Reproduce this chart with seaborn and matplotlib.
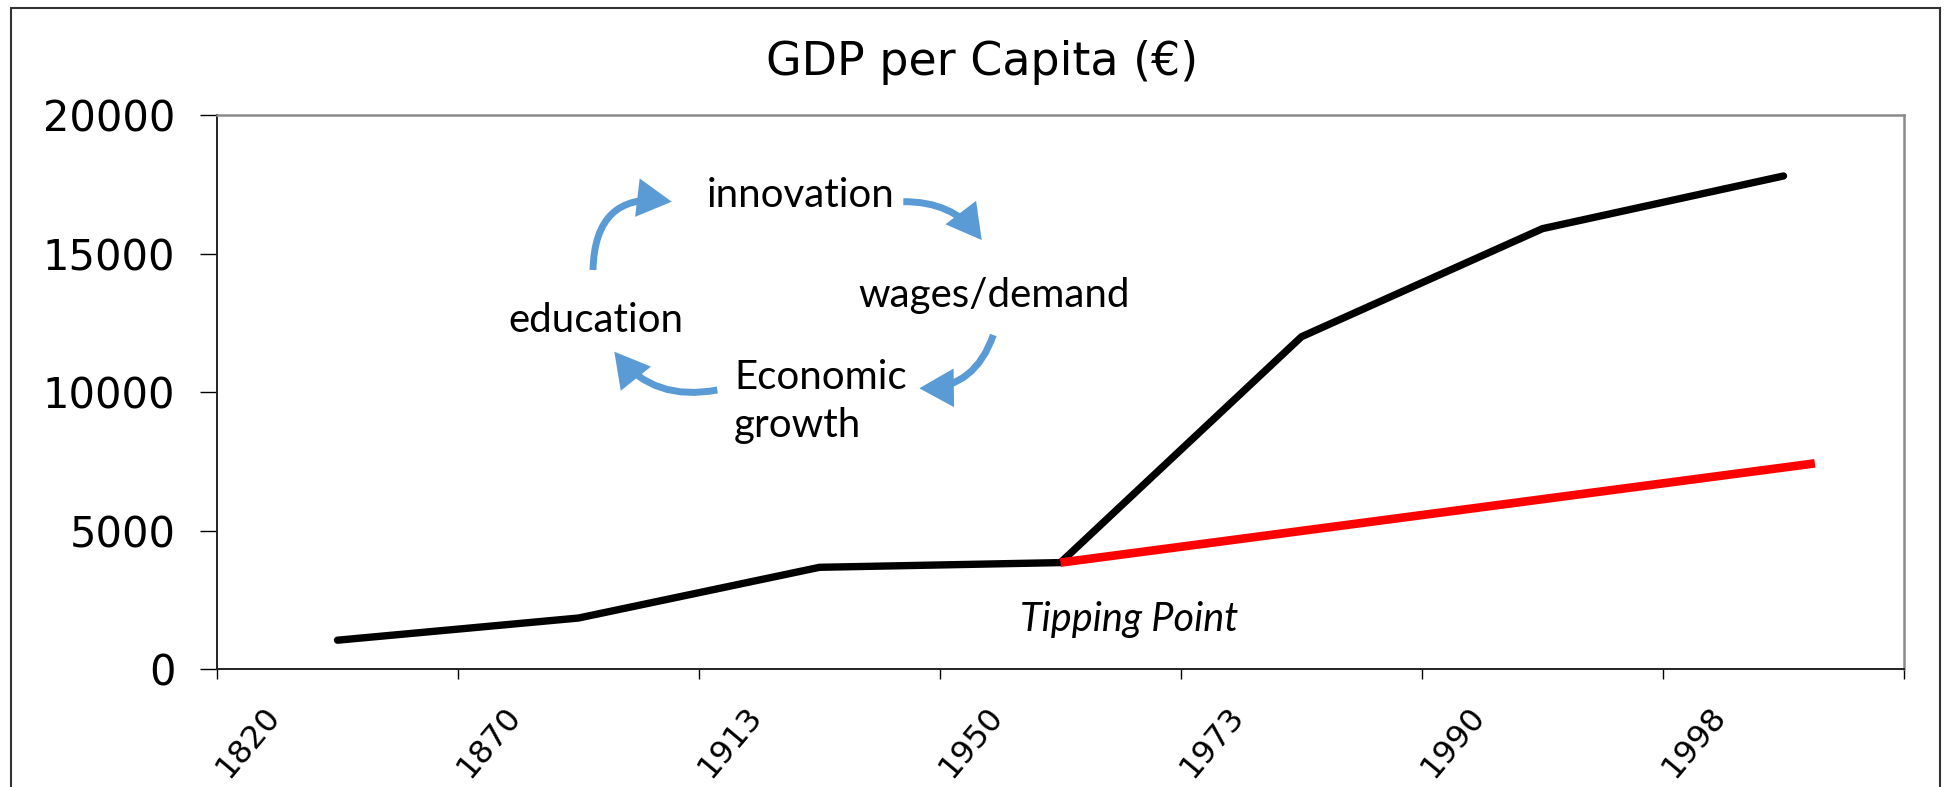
import numpy as np
import pandas as pd
import matplotlib
matplotlib.use("Agg")
import matplotlib.pyplot as plt
import seaborn as sns
from matplotlib.patches import FancyArrowPatch, Rectangle

# ---------------- data ----------------
years = ["1820", "1870", "1913", "1950", "1973", "1990", "1998"]
gdp = [1050, 1850, 3680, 3850, 12000, 15900, 17800]
proj_pos = [3.0, 6.13]          # projection line, in category-index units
proj_gdp = [3850, 7430]
y_ticks = [0, 5000, 10000, 15000, 20000]
title = "GDP per Capita (€)"
cycle_words = ["innovation", "wages/demand", "Economic\ngrowth", "education"]
tipping_label = "Tipping Point"

# ---------------- figure ----------------
W, H = 1944, 787
sns.set_theme(style="white")
plt.rcParams["font.family"] = ["DejaVu Sans"]
plt.rcParams["text.color"] = "black"
plt.rcParams["xtick.color"] = "black"
plt.rcParams["ytick.color"] = "black"

fig = plt.figure(figsize=(W / 100, H / 100), dpi=100)
fig.patch.set_facecolor("white")


def fx(px):
    return px / W


def fy(py):
    return 1 - py / H


ax = fig.add_axes([fx(217), fy(669.3), fx(1904) - fx(217), fy(115) - fy(669.3)])
ax.set_facecolor("white")

df = pd.DataFrame({"pos": np.arange(len(years)), "gdp": gdp})
sns.lineplot(data=df, x="pos", y="gdp", ax=ax, color="black", linewidth=5.3,
             solid_capstyle="round", solid_joinstyle="miter")
dfp = pd.DataFrame({"pos": proj_pos, "gdp": proj_gdp})
sns.lineplot(data=dfp, x="pos", y="gdp", ax=ax, color="#ff0000", linewidth=6.2,
             solid_capstyle="butt")

ax.set_xlim(-0.5, len(years) - 0.5)
ax.set_ylim(0, 20000)
ax.set_xlabel("")
ax.set_ylabel("")

# y axis
ax.set_yticks(y_ticks)
ax.set_yticklabels([str(v) for v in y_ticks], fontsize=30, color="black")
ax.tick_params(axis="y", which="major", direction="out", length=12, width=1.0,
               color="black", pad=18, left=True)

# x axis: tick marks at category boundaries, labels on (invisible) minor ticks
bounds = np.arange(len(years) + 1) - 0.5
ax.set_xticks(bounds)
ax.set_xticklabels([""] * len(bounds))
ax.tick_params(axis="x", which="major", direction="out", length=7, width=1.0,
               color="black", bottom=True)
ax.set_xticks(np.arange(len(years)) - 0.26, minor=True)
ax.set_xticklabels(years, minor=True, fontsize=23, color="black")
ax.tick_params(axis="x", which="minor", length=0, pad=30)
for lbl in ax.get_xticklabels(minor=True):
    lbl.set_rotation(50)
    lbl.set_ha("right")
    lbl.set_va("center")
    lbl.set_rotation_mode("anchor")

for side in ["top", "right"]:
    ax.spines[side].set_color("#8a8a8a")
    ax.spines[side].set_linewidth(1.8)
for side in ["left", "bottom"]:
    ax.spines[side].set_color("#222222")
    ax.spines[side].set_linewidth(1.4)
ax.grid(False)

# title
fig.text(fx(982), fy(75), title, ha="center", va="baseline", fontsize=33,
         color="black")

# outer border of the chart
fig.add_artist(Rectangle((fx(11), -0.05), fx(1940) - fx(11), fy(7.5) + 0.05,
                         transform=fig.transFigure, fill=False,
                         edgecolor="#333333", linewidth=1.5, clip_on=False))

# cycle diagram text
ann_font = ["Lato", "DejaVu Sans"]
fig.text(fx(706.7), fy(207.3), cycle_words[0], ha="left", va="baseline",
         fontsize=29, family=ann_font, color="black")
fig.text(fx(858.3), fy(306.7), cycle_words[1], ha="left", va="baseline",
         fontsize=29, family=ann_font, color="black")
eco, grow = cycle_words[2].split("\n")
fig.text(fx(734), fy(389), eco, ha="left", va="baseline", fontsize=29,
         family=ann_font, color="black")
fig.text(fx(734), fy(436.7), grow, ha="left", va="baseline", fontsize=29,
         family=ann_font, color="black")
fig.text(fx(508.3), fy(331.7), cycle_words[3], ha="left", va="baseline",
         fontsize=29, family=ann_font, color="black")
fig.text(fx(1020), fy(630.7), tipping_label, ha="left", va="baseline",
         fontsize=28.5, style="italic", family=ann_font, color="black")

# cycle arrows
arrow_color = "#5b9bd5"
arrows = [
    ((593, 270), (671.7, 201.7), -0.55),
    ((903.3, 201.7), (981.7, 240), -0.25),
    ((993.3, 335), (919.3, 388.3), -0.35),
    ((717.3, 390), (614.3, 351.7), -0.30),
]
for (xa, ya), (xb, yb), rad in arrows:
    arr = FancyArrowPatch((fx(xa), fy(ya)), (fx(xb), fy(yb)),
                          transform=fig.transFigure,
                          connectionstyle=f"arc3,rad={rad}",
                          arrowstyle="-|>,head_length=0.75,head_width=0.42",
                          mutation_scale=23, color=arrow_color,
                          linewidth=5.0, shrinkA=0, shrinkB=0,
                          joinstyle="miter", capstyle="butt")
    fig.add_artist(arr)

fig.savefig("out.png", dpi=100)
